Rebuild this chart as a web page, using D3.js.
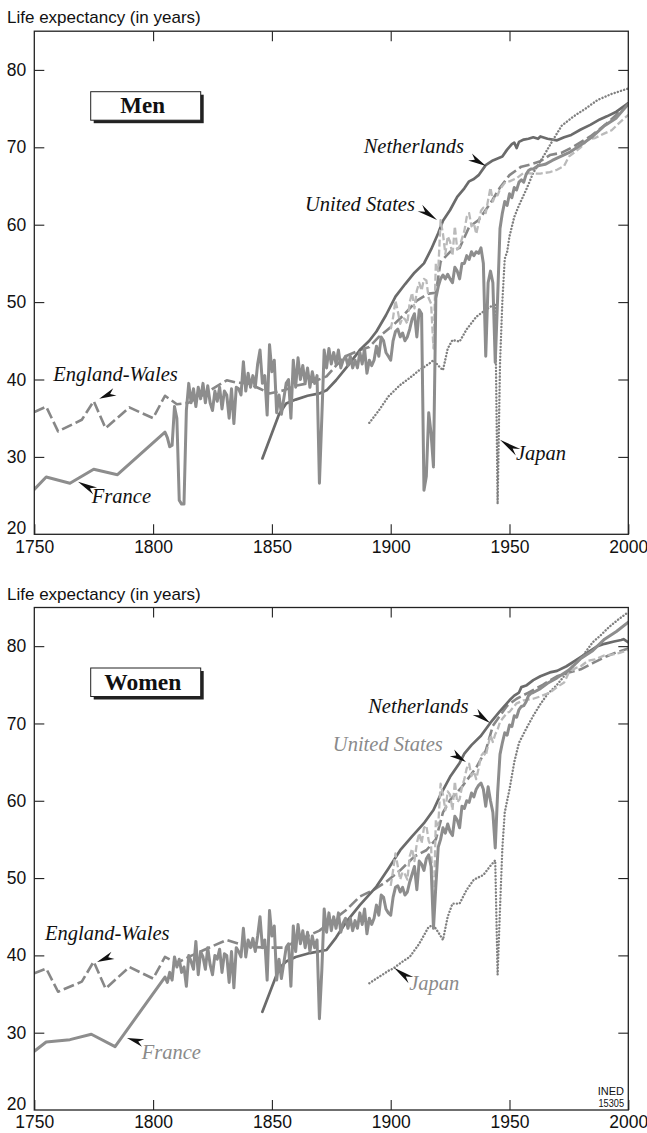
<!DOCTYPE html>
<html><head><meta charset="utf-8">
<script src="https://cdn.jsdelivr.net/npm/d3@7"></script>
<style>body{margin:0;background:#fff}svg{display:block}</style>
</head><body>
<svg id="chart" width="647" height="1133"></svg>
<script>
// ---------------- DATA ----------------
const xTickYears = [1750, 1800, 1850, 1900, 1950, 2000];
const innerXTicks = [1800, 1850, 1900, 1950];
const yTickValues = [20, 30, 40, 50, 60, 70, 80];
const innerYTicks = [30, 40, 50, 60, 70, 80];
const countries = ["Netherlands", "United States", "England-Wales", "France", "Japan"];

// ----- Men -----
const menFranceEarly = [[1750,25.8],[1755,27.4],[1765,26.6],[1775,28.4],[1785,27.7],[1805,33.2]];
const menFranceStart = 1806;
const menFranceAnnual = [
 32.5,31.3,31.5,36.5,35.0,24.4,23.9,23.9,36.0,39.5,
 37.0,38.8,36.5,39.0,37.5,39.5,37.0,39.2,37.0,36.0,
 38.5,37.2,39.0,36.2,38.5,38.0,35.0,38.8,34.3,39.0,
 38.8,38.0,42.3,38.5,40.8,39.0,40.5,39.0,42.0,43.8,
 39.5,40.5,35.4,44.5,41.0,42.5,35.7,38.0,35.5,37.5,
 39.5,40.0,35.0,42.5,39.0,42.8,40.0,41.8,39.5,41.5,
 39.0,41.0,39.5,40.5,26.6,35.0,43.8,41.5,44.0,42.0,
 43.5,42.0,43.8,41.5,42.5,43.0,41.8,43.0,41.5,42.5,
 41.5,43.5,42.0,44.0,40.8,42.5,41.8,42.5,44.3,43.0,
 45.5,45.0,43.5,43.0,42.5,45.0,46.2,46.5,45.5,46.0,
 45.0,45.5,46.5,47.8,48.5,45.5,49.0,48.5,25.7,27.5,
 35.7,33.0,28.7,50.5,52.0,53.0,53.5,53.0,53.6,53.0,
 52.5,54.5,54.0,53.0,55.0,55.0,56.0,55.5,56.5,56.0,
 56.5,56.3,57.0,55.0,43.0,52.5,54.0,52.5,42.2,50.5,
 59.5,61.5,63.0,62.5,64.0,63.5,64.8,64.5,65.5,65.8,
 65.5,66.5,67.0,67.2,67.2];
const menFranceLate = [[1962,67.6],[1965,67.8],[1968,68.3],[1970,68.6],[1975,69.3],[1980,70.3],[1985,71.4],[1990,72.8],[1995,73.8],[2000,75.6]];

const menEnglandWales = [[1750,35.8],[1755,36.5],[1760,33.3],[1770,34.8],[1775,37.2],[1780,33.7],[1790,36.4],[1800,35.0],[1805,37.9],[1810,36.8],
 [1815,37.0],[1820,37.8],[1825,38.8],[1831,39.9],[1835,39.6],[1840,39.5],[1845,38.8],[1849,38.2],[1855,38.6],[1860,39.2],[1865,39.5],[1869,39.9],
 [1873,40.4],[1877,41.8],[1881,43.0],[1887,43.8],[1891,44.2],[1895,45.5],[1901,47.0],[1906,48.5],[1911,50.2],[1916,51.1],[1919,51.2],[1921,55.2],
 [1925,56.5],[1929,57.0],[1933,59.7],[1937,60.6],[1942,62.8],[1946,64.8],[1950,66.4],[1955,67.5],[1959,67.8],[1963,68.2],[1967,69.0],[1972,69.3],
 [1977,70.1],[1984,71.4],[1991,73.1],[1995,74.2],[2000,75.7]];

const menNetherlands = [[1846,29.8],[1853,35.5],[1856,36.9],[1860,37.4],[1865,37.9],[1870,38.2],[1873,38.6],[1877,39.9],[1882,41.8],[1887,43.8],
 [1891,45.0],[1894,46.2],[1898,48.3],[1902,50.7],[1906,52.3],[1910,53.8],[1914,55.0],[1917,56.8],[1920,58.9],[1922,60.5],[1925,61.9],[1928,63.6],
 [1931,64.7],[1933,65.6],[1935,65.9],[1937,66.4],[1940,67.7],[1943,68.3],[1947,68.8],[1949,69.7],[1951,70.4],[1952,70.6],[1953,69.9],[1954,70.7],
 [1956,71.0],[1958,71.1],[1960,71.3],[1962,71.1],[1963,71.4],[1966,71.1],[1970,70.9],[1973,71.3],[1976,71.6],[1980,72.3],[1984,72.9],[1988,73.6],
 [1991,74.0],[1995,74.6],[2000,75.7]];

const menUSStart = 1900;
const menUSAnnual = [46.5,48.0,50.2,48.8,47.2,48.0,47.8,47.2,50.0,51.2,
 49.2,51.5,52.5,51.5,53.0,52.8,50.5,49.8,44.0,55.0,
 54.0,60.6,58.8,56.2,58.5,57.8,56.0,59.8,56.8,57.2,
 58.2,59.2,61.0,61.5,59.8,60.2,58.8,60.2,61.8,62.2,
 61.5,63.2,64.8,63.0,63.8,63.8,64.6,65.0,65.4,65.6,65.6];
const menUSLate = [[1953,66.0],[1956,66.7],[1960,66.6],[1963,66.6],[1967,66.8],[1970,67.1],[1973,67.6],[1975,68.8],[1978,69.5],[1980,70.0],[1983,71.0],[1986,71.2],[1990,71.8],[1993,72.2],[1996,73.1],[2000,74.2]];

const menJapan = [[1891,34.4],[1895,36.0],[1899,37.8],[1904,39.3],[1908,40.2],[1912,41.2],[1916,42.0],[1918,42.5],[1920,41.8],[1922,41.2],[1924,44.0],
 [1926,45.1],[1929,44.9],[1932,46.5],[1936,48.1],[1940,49.0],[1943,49.6],[1944,49.8],[1945,23.9],[1946,42.0],[1947,50.1],[1948,55.6],[1949,56.5],
 [1950,58.5],[1952,61.0],[1954,62.5],[1957,64.5],[1960,66.7],[1965,69.2],[1968,70.8],[1972,72.8],[1977,74.0],[1982,75.0],[1987,76.1],[1993,76.9],[2000,77.6]];

// ----- Women -----
const womenFranceEarly = [[1750,27.6],[1755,28.8],[1765,29.1],[1774,29.8],[1784,28.2],[1805,37.2]];
const womenFranceStart = 1806;
const womenFranceAnnual = [
 36.5,37.8,36.8,39.8,38.5,39.5,37.8,38.5,36.0,40.0,
 39.2,38.2,41.8,37.5,40.5,39.8,38.2,41.0,38.8,37.5,
 40.0,39.5,40.8,37.8,40.2,40.0,36.5,40.5,35.8,41.0,
 40.5,39.8,43.5,39.8,42.0,41.0,42.2,40.5,42.5,45.0,
 41.0,42.0,36.8,45.8,42.5,43.8,36.8,39.5,37.0,39.0,
 41.0,41.5,36.0,43.8,40.5,44.0,41.5,43.2,41.0,43.0,
 40.5,42.5,41.0,42.0,31.8,38.0,46.0,43.0,45.5,43.2,
 45.0,43.5,45.5,43.0,44.2,44.8,43.5,44.8,43.2,44.5,
 43.5,45.5,44.0,46.0,42.8,44.8,44.0,44.8,46.5,45.2,
 47.8,47.5,46.0,45.5,45.2,47.5,48.8,49.0,48.2,48.8,
 47.8,48.2,49.5,50.5,51.5,48.5,52.2,51.8,51.0,52.5,
 53.0,51.5,43.5,49.0,54.0,55.0,56.5,55.8,57.0,56.0,
 55.5,58.0,57.5,56.5,59.3,59.0,60.0,59.8,61.0,60.5,
 61.5,62.0,62.3,61.5,59.3,61.8,60.0,58.5,53.9,61.0,
 66.0,67.5,68.8,68.5,69.8,69.6,71.0,70.8,71.8,72.2,
 72.3,72.8,73.6,73.9,74.0];
const womenFranceLate = [[1963,74.5],[1966,75.2],[1970,75.9],[1975,76.9],[1980,78.4],[1985,79.4],[1990,80.9],[1995,81.9],[2000,83.1]];

const womenEnglandWales = [[1750,37.7],[1755,38.3],[1760,35.3],[1770,36.6],[1775,39.2],[1780,35.7],[1790,38.5],[1800,37.0],[1805,39.8],[1810,39.0],
 [1815,39.8],[1820,40.5],[1825,41.2],[1831,42.0],[1836,41.5],[1842,41.1],[1848,41.0],[1855,41.0],[1860,41.8],[1865,42.5],[1870,43.2],[1875,44.4],
 [1881,45.8],[1887,47.6],[1893,48.5],[1898,49.5],[1904,51.0],[1910,52.8],[1915,53.6],[1919,55.0],[1922,58.5],[1925,60.1],[1930,61.8],[1936,64.3],
 [1940,66.5],[1943,69.7],[1946,71.0],[1949,72.3],[1953,73.2],[1958,74.0],[1964,75.0],[1970,76.1],[1975,76.6],[1980,77.0],[1985,77.8],[1991,78.7],
 [1995,79.2],[2000,79.7]];

const womenNetherlands = [[1846,32.7],[1853,38.3],[1856,39.2],[1860,39.8],[1866,40.3],[1873,40.7],[1877,42.3],[1881,44.2],[1887,46.5],[1894,48.9],
 [1899,51.2],[1904,53.6],[1909,55.4],[1914,57.1],[1918,58.8],[1921,60.8],[1925,63.1],[1929,64.9],[1931,66.1],[1934,67.2],[1938,68.4],[1942,70.1],
 [1946,71.6],[1950,73.0],[1952,73.6],[1954,74.0],[1955,74.7],[1957,74.9],[1960,75.6],[1963,76.1],[1967,76.6],[1970,76.8],[1974,77.4],[1978,78.2],
 [1983,79.2],[1987,80.0],[1990,80.3],[1994,80.6],[1997,80.8],[1998,80.9],[2000,80.5]];

const womenUSStart = 1900;
const womenUSAnnual = [49.0,51.0,53.2,51.5,49.8,50.8,50.5,49.8,52.8,53.8,
 52.2,54.5,55.8,54.5,56.5,56.8,54.8,54.2,45.0,57.5,
 56.8,62.2,60.8,58.8,61.2,60.8,58.8,62.5,59.8,60.2,
 61.8,62.8,64.2,64.8,63.2,63.8,62.8,64.2,65.8,66.2,
 65.8,67.2,68.5,67.6,68.6,69.2,70.2,70.6,71.0,71.4,71.5];
const womenUSLate = [[1953,72.6],[1956,73.0],[1960,73.2],[1963,73.5],[1967,74.0],[1970,74.7],[1973,75.3],[1975,76.6],[1978,77.2],[1980,77.4],[1983,78.1],[1986,78.3],[1990,78.8],[1993,78.9],[1996,79.1],[2000,79.5]];

const womenJapan = [[1891,36.4],[1895,37.2],[1899,38.0],[1901,38.3],[1905,39.2],[1908,39.8],[1912,41.5],[1916,43.7],[1918,43.9],[1920,43.0],[1922,42.0],
 [1924,45.0],[1926,46.7],[1929,46.7],[1932,48.5],[1935,49.8],[1939,50.4],[1942,51.6],[1944,52.3],[1945,37.5],[1946,46.0],[1947,53.9],[1948,58.5],
 [1949,60.0],[1950,61.5],[1952,65.0],[1954,67.5],[1957,69.3],[1960,71.0],[1963,72.5],[1966,73.8],[1970,75.0],[1975,76.9],[1980,78.4],[1985,80.5],
 [1988,81.3],[1992,82.5],[1996,83.5],[2000,84.4]];

// Annotations (positions in data units: year, years of life expectancy)
const menLabels = [
 {text:"Netherlands", x:1930.8, y:69.3, anchor:"end", color:"#111", tail:[1933.4,68.75], tip:[1940.1,67.6]},
 {text:"United States", x:1910.2, y:61.8, anchor:"end", color:"#111", tail:[1912.3,62.15], tip:[1919.5,60.6]},
 {text:"England-Wales", x:1758.0, y:39.8, anchor:"start", color:"#111", tail:[1783.9,38.4], tip:[1777.3,37.5]},
 {text:"France", x:1774.2, y:24.1, anchor:"start", color:"#111", tail:[1775.6,25.6], tip:[1768.4,26.8]},
 {text:"Japan", x:1952.7, y:29.6, anchor:"start", color:"#111", tail:[1953.6,30.6], tip:[1946.0,32.2]}
];
const womenLabels = [
 {text:"Netherlands", x:1932.7, y:71.3, anchor:"end", color:"#111", tail:[1935.5,71.5], tip:[1941.8,70.07]},
 {text:"United States", x:1921.9, y:66.5, anchor:"end", color:"#8a8a8a", tail:[1925.8,66.2], tip:[1931.7,65.0]},
 {text:"England-Wales", x:1754.5, y:42.0, anchor:"start", color:"#111", tail:[1783.1,40.0], tip:[1776.4,39.15]},
 {text:"France", x:1795.2, y:26.56, anchor:"start", color:"#8a8a8a", tail:[1795.8,28.67], tip:[1789.0,29.3]},
 {text:"Japan", x:1907.8, y:35.5, anchor:"start", color:"#8a8a8a", tail:[1908.5,36.8], tip:[1901.4,38.4]}
];

// ---------------- HELPERS ----------------
const annual = (start, vals) => vals.map((v, i) => [start + i, v]);

const styles = {
  "England-Wales": {stroke:"#878787", width:2.6, dash:"11,4", cap:"butt"},
  "Netherlands":   {stroke:"#6b6b6b", width:2.7, dash:null, cap:"round"},
  "Japan":         {stroke:"#808080", width:2.4, dash:"0.1,3.2", cap:"round"},
  "United States": {stroke:"#bababa", width:2.3, dash:"7,3", cap:"butt"},
  "France":        {stroke:"#8d8d8d", width:3.0, dash:null, cap:"round"}
};
const drawOrder = ["England-Wales", "Netherlands", "Japan", "United States", "France"];

const panels = [
  { id:"men", top:31.2, bottom:534.3, titleY:23, box:"Men", boxFont:23, labels:menLabels,
    series:{
      "France": menFranceEarly.concat(annual(menFranceStart, menFranceAnnual), menFranceLate),
      "England-Wales": menEnglandWales,
      "Netherlands": menNetherlands,
      "United States": annual(menUSStart, menUSAnnual).concat(menUSLate),
      "Japan": menJapan
    }},
  { id:"women", top:607.5, bottom:1110, titleY:599.5, box:"Women", boxFont:23.5, labels:womenLabels, ined:true,
    series:{
      "France": womenFranceEarly.concat(annual(womenFranceStart, womenFranceAnnual), womenFranceLate),
      "England-Wales": womenEnglandWales,
      "Netherlands": womenNetherlands,
      "United States": annual(womenUSStart, womenUSAnnual).concat(womenUSLate),
      "Japan": womenJapan
    }}
];

// ---------------- DRAW ----------------
const svg = d3.select("#chart");
const SANS = "'Liberation Sans', Arial, Helvetica, sans-serif";
const SERIF = "'Liberation Serif', 'Times New Roman', serif";
const x = d3.scaleLinear().domain([1750, 2000]).range([34.3, 628.3]);

panels.forEach(p => {
  const y = d3.scaleLinear().domain([20, 85]).range([p.bottom, p.top]);
  const g = svg.append("g").attr("class", p.id);

  g.append("text").attr("x", 7).attr("y", p.titleY)
    .attr("font-family", SANS).attr("font-size", 17).attr("fill", "#111")
    .text("Life expectancy (in years)");

  const clipId = "clip-" + p.id;
  g.append("clipPath").attr("id", clipId).append("rect")
    .attr("x", x(1750)).attr("y", y(85)).attr("width", x(2000) - x(1750)).attr("height", y(20) - y(85));

  const line = d3.line().x(d => x(d[0])).y(d => y(d[1]));
  const lg = g.append("g").attr("clip-path", `url(#${clipId})`);
  drawOrder.forEach(name => {
    const s = styles[name];
    lg.append("path").datum(p.series[name])
      .attr("d", line)
      .attr("fill", "none")
      .attr("stroke", s.stroke)
      .attr("stroke-width", s.width)
      .attr("stroke-linejoin", "round")
      .attr("stroke-linecap", s.cap)
      .attr("stroke-dasharray", s.dash);
  });

  // axes
  const axStyle = sel => { sel.select(".domain").remove(); sel.attr("color", "#222"); sel.selectAll("line").attr("stroke-width", 1.1); };
  const bx = g.append("g").attr("transform", `translate(0,${p.bottom})`)
    .call(d3.axisBottom(x).tickValues(xTickYears).tickSize(-10).tickSizeOuter(0).tickPadding(6).tickFormat(d3.format("d")));
  axStyle(bx);
  bx.attr("font-family", SANS).attr("font-size", 17.5);
  bx.selectAll("text").attr("fill", "#111");

  const tx = g.append("g").attr("transform", `translate(0,${p.top})`)
    .call(d3.axisTop(x).tickValues(innerXTicks).tickSize(-10).tickSizeOuter(0).tickFormat(""));
  axStyle(tx);

  const ly = g.append("g").attr("transform", `translate(${x(1750)},0)`)
    .call(d3.axisLeft(y).tickValues(yTickValues).tickSize(-10).tickSizeOuter(0).tickPadding(8).tickFormat(d3.format("d")));
  axStyle(ly);
  ly.attr("font-family", SANS).attr("font-size", 17.5);
  ly.selectAll("text").attr("fill", "#111");
  ly.selectAll(".tick").filter(d => d === 20).select("text").attr("dy", "-0.05em");
  ly.selectAll(".tick").filter(d => d === 20).select("line").remove();

  const ry = g.append("g").attr("transform", `translate(${x(2000)},0)`)
    .call(d3.axisRight(y).tickValues(innerYTicks).tickSize(-10).tickSizeOuter(0).tickFormat(""));
  axStyle(ry);

  // frame
  g.append("rect").attr("x", x(1750)).attr("y", y(85)).attr("width", x(2000) - x(1750)).attr("height", y(20) - y(85))
    .attr("fill", "none").attr("stroke", "#222").attr("stroke-width", 1.3);

  // title box
  const bxX = 90.7, bxY = p.top + 60.5, bw = 110, bh = 28.5;
  g.append("rect").attr("x", bxX + 3).attr("y", bxY + 3).attr("width", bw).attr("height", bh).attr("fill", "#222");
  g.append("rect").attr("x", bxX).attr("y", bxY).attr("width", bw).attr("height", bh)
    .attr("fill", "#fff").attr("stroke", "#222").attr("stroke-width", 1);
  g.append("text").attr("x", bxX + 52).attr("y", bxY + 21.5).attr("text-anchor", "middle")
    .attr("font-family", SERIF).attr("font-weight", "bold").attr("font-size", p.boxFont).attr("fill", "#111")
    .text(p.box);

  // labels + arrows
  p.labels.forEach(l => {
    g.append("text").attr("x", x(l.x)).attr("y", y(l.y)).attr("text-anchor", l.anchor)
      .attr("font-family", SERIF).attr("font-style", "italic").attr("font-size", 20.5).attr("fill", l.color)
      .text(l.text);
    const t0 = [x(l.tail[0]), y(l.tail[1])], t1 = [x(l.tip[0]), y(l.tip[1])];
    const dx = t1[0] - t0[0], dy = t1[1] - t0[1], L = Math.hypot(dx, dy);
    const ux = dx / L, uy = dy / L, nx = -uy, ny = ux, w = 4;
    const back = [t0[0], t0[1]], notch = [t0[0] + ux * L * 0.3, t0[1] + uy * L * 0.3];
    const path = `M${t1[0]},${t1[1]}L${back[0] + nx * w},${back[1] + ny * w}L${notch[0]},${notch[1]}L${back[0] - nx * w},${back[1] - ny * w}Z`;
    g.append("path").attr("d", path).attr("fill", "#111");
  });

  if (p.ined) {
    g.append("text").attr("x", 624).attr("y", 1094.5).attr("text-anchor", "end")
      .attr("font-family", SANS).attr("font-size", 11).attr("fill", "#111").text("INED");
    g.append("text").attr("x", 624).attr("y", 1106.5).attr("text-anchor", "end")
      .attr("font-family", SANS).attr("font-size", 10.5).attr("fill", "#111")
      .attr("textLength", 25.5).attr("lengthAdjust", "spacingAndGlyphs").text("15305");
  }
});
</script>
</body></html>
